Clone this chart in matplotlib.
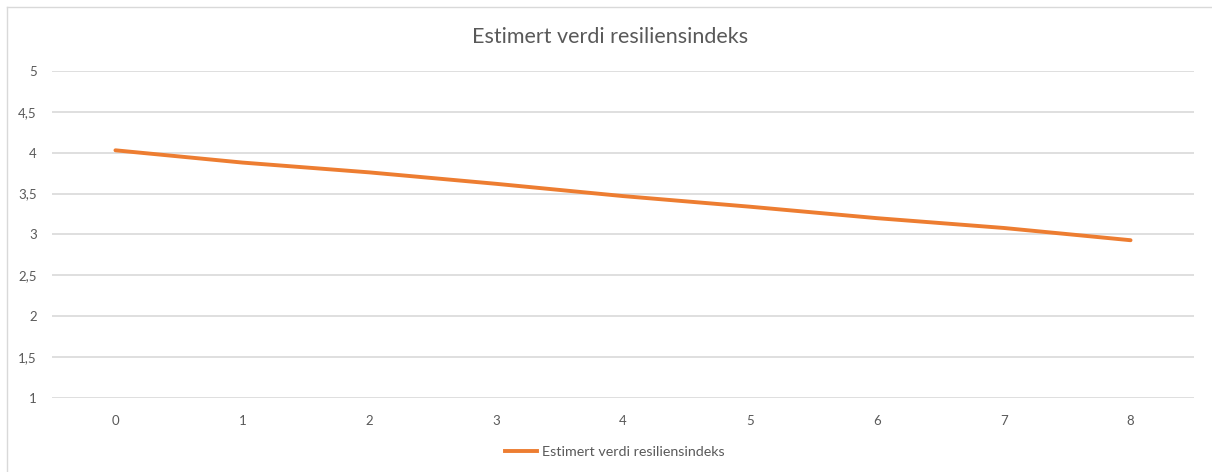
import matplotlib.pyplot as plt
from matplotlib.ticker import FuncFormatter
from matplotlib.lines import Line2D

plt.rcParams['font.family'] = ['Lato', 'DejaVu Sans']

periods = [0, 1, 2, 3, 4, 5, 6, 7, 8]
estimert = [4.03, 3.88, 3.76, 3.62, 3.47, 3.34, 3.20, 3.08, 2.93]
serie_navn = "Estimert verdi resiliensindeks"

fig = plt.figure(figsize=(12.12, 4.72), dpi=100)
ax = fig.add_axes([52 / 1212, 1 - 398 / 472, (1194 - 52) / 1212, (398 - 71) / 472])

ax.plot(periods, estimert, color='#ED7D31', linewidth=2.8, solid_capstyle='round')

ax.set_xlim(-0.5, 8.5)
ax.set_ylim(1, 5)
ax.set_xticks(periods)
ax.set_yticks([1, 1.5, 2, 2.5, 3, 3.5, 4, 4.5, 5])
ax.yaxis.set_major_formatter(FuncFormatter(lambda v, p: ('%g' % v).replace('.', ',')))
ax.grid(axis='y', color='#D9D9D9', linewidth=1.2)
ax.set_axisbelow(True)
for s in ax.spines.values():
    s.set_visible(False)
ax.tick_params(length=0, colors='#595959', labelsize=9.5)
ax.tick_params(axis='x', pad=12)
ax.tick_params(axis='y', pad=11)

fig.text(610 / 1212, 1 - 37 / 472, serie_navn, ha='center', va='center', fontsize=15.5, color='#595959')

# legend at the bottom
fig.legend([Line2D([0], [0], color='#ED7D31', linewidth=2.8)], [serie_navn],
           loc='center', bbox_to_anchor=(0.507, 1 - 452 / 472), frameon=False,
           fontsize=10.3, labelcolor='#595959', handlelength=2.3, handletextpad=0.3)

# chart border
fig.add_artist(Line2D([7 / 1212, 7 / 1212], [0, 1 - 7 / 472], transform=fig.transFigure, color='#D9D9D9', linewidth=1))
fig.add_artist(Line2D([7 / 1212, 1], [1 - 7 / 472, 1 - 7 / 472], transform=fig.transFigure, color='#D9D9D9', linewidth=1))

fig.savefig('out.png', dpi=100)
